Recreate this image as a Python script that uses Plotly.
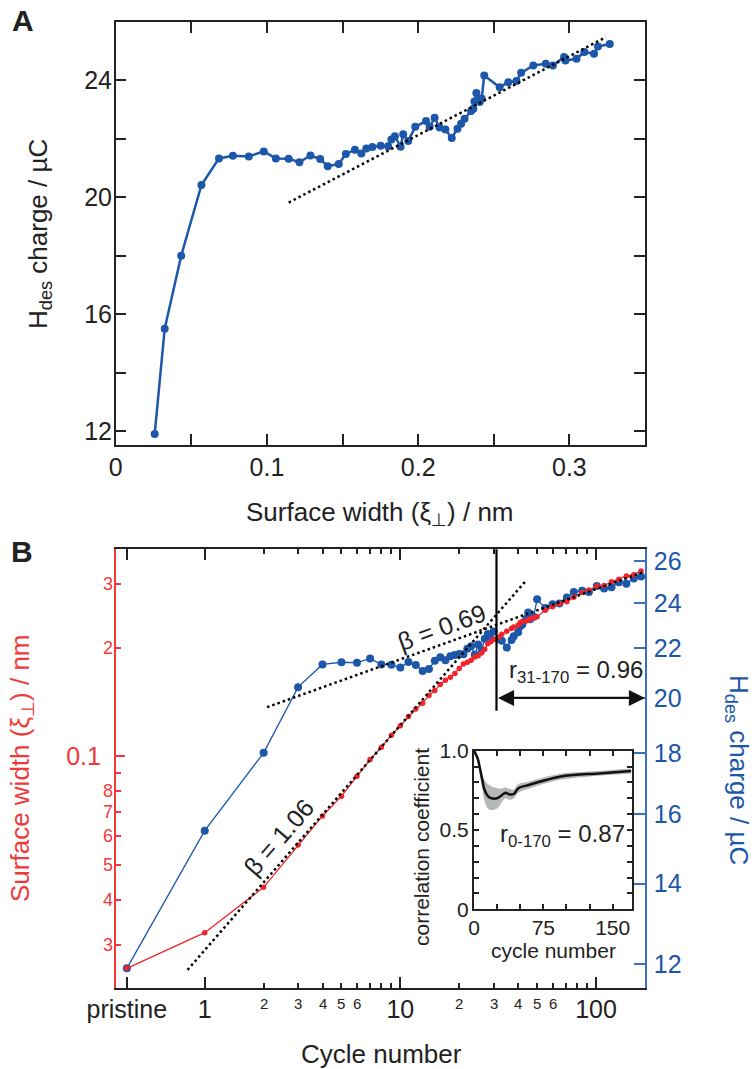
import plotly.graph_objects as go
import numpy as np

W, H = 756, 1069

# ---- data ----
cycle = [0, 1, 2, 3, 4, 5, 6, 7, 8, 9, 10, 11, 12, 13, 14, 15, 16, 17, 18, 19,
         20, 21, 22, 23, 24, 25, 26, 27, 28, 29, 30, 32, 33, 35, 37, 38, 40, 41,
         42, 44, 45, 46, 48, 50, 55, 60, 65, 71, 77, 85, 92, 101, 110, 120, 131,
         143, 156, 170]
width_nm = [0.0258, 0.0324, 0.0433, 0.0567, 0.0683, 0.0775, 0.0880, 0.0979, 0.1059, 0.1144,
            0.1215, 0.1288, 0.1352, 0.1402, 0.1475, 0.1522, 0.1582, 0.1624, 0.1657, 0.1697,
            0.1752, 0.1801, 0.1823, 0.1846, 0.1884, 0.1901, 0.1934, 0.1981, 0.2052, 0.2076,
            0.2109, 0.2142, 0.2180, 0.2222, 0.2260, 0.2284, 0.2307, 0.2350, 0.2365, 0.2372,
            0.2385, 0.2407, 0.2420, 0.2437, 0.2539, 0.2596, 0.2650, 0.2681, 0.2761, 0.2844,
            0.2891, 0.2965, 0.2974, 0.3047, 0.3099, 0.3163, 0.3189, 0.3267]
charge_uc = [11.9, 15.5, 18.0, 20.42, 21.33, 21.42, 21.40, 21.57, 21.33, 21.32,
             21.20, 21.43, 21.31, 21.06, 21.14, 21.48, 21.63, 21.50, 21.67, 21.72,
             21.76, 21.75, 21.98, 22.09, 21.73, 22.16, 21.93, 22.41, 22.61, 22.41,
             22.72, 22.39, 22.32, 22.03, 22.35, 22.52, 22.69, 22.95, 23.03, 23.28,
             23.57, 23.26, 23.38, 24.17, 23.77, 23.94, 23.98, 24.26, 24.51, 24.57,
             24.51, 24.80, 24.68, 24.74, 24.97, 24.91, 25.16, 25.25]

# dotted fits
fit_a_x = [0.1144, 0.3241]
fit_a_y = [19.82, 25.48]
fit_fast_x = [0.817, 43.4]      # beta = 1.06
fit_fast_y = [0.02555, 0.3049]
fit_slow_x = [2.084, 177.2]     # beta = 0.69
fit_slow_y = [0.1368, 0.325]
split_cycle = 31
split_top, split_bottom = 0.40, 0.1338
arrow_charge = 20

# inset: correlation coefficient
corr_cycle = [0, 4, 6, 9, 11, 15, 19, 25, 29, 34, 38, 43, 48, 59, 78, 97, 135, 170]
corr_r = [1.0, 0.95, 0.90, 0.815, 0.76, 0.714, 0.70, 0.70, 0.714, 0.735, 0.725,
          0.727, 0.763, 0.784, 0.815, 0.84, 0.857, 0.872]
corr_lo = [1.0, 0.93, 0.86, 0.76, 0.69, 0.635, 0.625, 0.635, 0.665, 0.70, 0.69,
           0.70, 0.735, 0.76, 0.795, 0.82, 0.842, 0.857]
corr_hi = [1.0, 0.97, 0.93, 0.86, 0.82, 0.79, 0.775, 0.765, 0.76, 0.77, 0.76,
           0.755, 0.79, 0.805, 0.835, 0.858, 0.872, 0.887]

PRISTINE_AT = 0.4
cyc_pos = [PRISTINE_AT if c == 0 else c for c in cycle]

BLUE = '#1c57aa'
BLUE_AX = '#3a6ec2'
RED = '#f0252b'
RED_AX = '#f03a3a'
INK = '#222222'
FONT = 'Liberation Sans, Arial, sans-serif'


def px(x):
    return x / W


def py(y):
    return 1 - y / H


fig = go.Figure()

# ---- panel A ----
fig.add_trace(go.Scatter(x=width_nm, y=charge_uc, mode='lines+markers',
                         line=dict(color=BLUE, width=2.5), marker=dict(size=8, color=BLUE),
                         xaxis='x', yaxis='y'))
fig.add_trace(go.Scatter(x=fit_a_x, y=fit_a_y, mode='lines',
                         line=dict(color='black', width=2.5, dash='2.5px,3px'),
                         xaxis='x', yaxis='y'))

# ---- panel B ----
fig.add_trace(go.Scatter(x=cyc_pos, y=charge_uc, mode='lines+markers',
                         line=dict(color=BLUE, width=1.3), marker=dict(size=8, color=BLUE),
                         xaxis='x2', yaxis='y2'))
fig.add_trace(go.Scatter(x=cyc_pos, y=width_nm, mode='lines+markers',
                         line=dict(color=RED, width=1.3), marker=dict(size=5.5, color=RED),
                         xaxis='x2', yaxis='y3'))
for fx, fy in [(fit_fast_x, fit_fast_y), (fit_slow_x, fit_slow_y)]:
    fig.add_trace(go.Scatter(x=fx, y=fy, mode='lines',
                             line=dict(color='black', width=2.5, dash='2.5px,3px'),
                             xaxis='x2', yaxis='y3'))
fig.add_trace(go.Scatter(x=[split_cycle, split_cycle], y=[split_top, split_bottom], mode='lines',
                         line=dict(color='black', width=2.2), xaxis='x2', yaxis='y3'))

# ---- inset ----
fig.add_trace(go.Scatter(x=corr_cycle, y=corr_lo, mode='lines', line=dict(width=0, color='#b4b8b8'),
                         line_shape='spline', xaxis='x3', yaxis='y4'))
fig.add_trace(go.Scatter(x=corr_cycle, y=corr_hi, mode='lines', line=dict(width=0, color='#b4b8b8'),
                         line_shape='spline', fill='tonexty', fillcolor='#b4b8b8',
                         xaxis='x3', yaxis='y4'))
fig.add_trace(go.Scatter(x=corr_cycle, y=corr_r, mode='lines', line=dict(color='#111111', width=2.5),
                         line_shape='spline', xaxis='x3', yaxis='y4'))

frame = dict(showline=True, linewidth=1.5, linecolor=INK, showgrid=False, zeroline=False,
             ticks='inside', tickwidth=1.5, tickcolor=INK, automargin=False)

xdom = [px(115.7), px(645)]
fig.update_layout(
    width=W, height=H, margin=dict(l=0, r=0, t=0, b=0),
    template='none', showlegend=False,
    paper_bgcolor='white', plot_bgcolor='white',
    font=dict(family=FONT, size=25, color=INK),
    xaxis=dict(frame, domain=xdom, anchor='y', range=[0, 0.35], mirror='ticks', ticklen=11,
               tickvals=[0, 0.05, 0.1, 0.15, 0.2, 0.25, 0.3],
               ticktext=['0', '', '0.1', '', '0.2', '', '0.3'],
               tickfont=dict(size=25), ticklabelstandoff=-1),
    yaxis=dict(frame, domain=[py(445), py(22)], anchor='x', range=[11.52, 26], mirror='ticks',
               ticklen=11, tickvals=[12, 14, 16, 18, 20, 22, 24, 26],
               ticktext=['12', '', '16', '', '20', '', '24', ''],
               tickfont=dict(size=25), ticklabelstandoff=-3),
    xaxis2=dict(frame, domain=xdom, anchor='y2', type='log', range=[-0.455, 2.2505],
                mirror='ticks', ticklen=11, tickvals=[PRISTINE_AT, 1, 10, 100],
                ticktext=['pristine', '1', '10', '100'], tickfont=dict(size=25),
                ticklabelstandoff=-1,
                minor=dict(ticks='inside', ticklen=5, tickwidth=1.5, tickcolor=INK,
                           tickvals=[2, 3, 4, 5, 6, 7, 8, 9, 20, 30, 40, 50, 60, 70, 80, 90])),
    yaxis2=dict(frame, domain=[py(987.7), py(549.3)], anchor='x2', side='right', type='log',
                range=[1.0594, 1.425], linecolor=BLUE_AX, tickcolor=BLUE_AX, ticklen=11,
                tickvals=[12, 14, 16, 18, 20, 22, 24, 26],
                tickfont=dict(size=25, color=BLUE), ticklabelstandoff=2),
    yaxis3=dict(frame, overlaying='y2', anchor='x2', side='left', type='log',
                range=[-1.642, -0.426], linecolor=RED_AX, tickcolor=RED_AX, ticklen=10,
                tickvals=[0.1], ticktext=['0.1'], tickfont=dict(size=25, color=RED_AX),
                ticklabelstandoff=8,
                minor=dict(ticks='inside', ticklen=6, tickwidth=1.5, tickcolor=RED_AX,
                           tickvals=[0.03, 0.04, 0.05, 0.06, 0.07, 0.08, 0.09, 0.2, 0.3])),
    xaxis3=dict(frame, domain=[px(474), px(632.3)], anchor='y4', range=[0, 171.2],
                mirror='ticks', ticklen=5, tickvals=[0, 25, 50, 75, 100, 125, 150],
                ticktext=['0', '', '', '75', '', '', '150'], tickfont=dict(size=21),
                linewidth=2, ticklabelstandoff=-2),
    yaxis4=dict(frame, domain=[py(909.3), py(750.7)], anchor='x3', range=[0, 1],
                mirror='ticks', ticklen=5,
                tickvals=[0, 0.1, 0.2, 0.3, 0.4, 0.5, 0.6, 0.7, 0.8, 0.9, 1.0],
                ticktext=['0', '', '', '', '', '0.5', '', '', '', '', '1.0'],
                tickfont=dict(size=21), linewidth=2, ticklabelstandoff=-1),
)

ann = []


def text(x, y, s, size=25, color=INK, angle=0):
    ann.append(dict(x=px(x), y=py(y), xref='paper', yref='paper', text=s, showarrow=False,
                    textangle=angle, xanchor='center', yanchor='middle',
                    font=dict(family=FONT, size=size, color=color)))


# panel letters and axis titles
text(23, 21, '<b>A</b>', size=30)
text(22, 551, '<b>B</b>', size=30)
text(380, 513, 'Surface width (ξ<sub>⊥</sub>) / nm', size=26)
text(40, 234, 'H<sub>des</sub> charge / µC', size=26, angle=-90)
text(21, 768, 'Surface width (ξ<sub>⊥</sub>) / nm', size=26, color=RED_AX, angle=-90)
text(738, 770, 'H<sub>des</sub> charge / µC', size=26, color=BLUE, angle=90)
text(381, 1054, 'Cycle number', size=26)

# small labels for minor ticks, placed through the axes
for v in [2, 3, 4, 5, 6, 20, 30, 40, 50, 60]:
    s = str(v if v < 10 else v // 10)
    ann.append(dict(x=np.log10(v), y=py(993), xref='x2', yref='paper', text=s, showarrow=False,
                    xanchor='center', yanchor='top', font=dict(family=FONT, size=15, color=INK)))
for v in [0.03, 0.04, 0.05, 0.06, 0.07, 0.08, 0.2, 0.3]:
    s = str(round(v * 100)) if v < 0.1 else str(round(v * 10))
    ann.append(dict(x=px(114.5), y=np.log10(v), xref='paper', yref='y3', text=s, showarrow=False,
                    xanchor='right', yanchor='middle', font=dict(family=FONT, size=18, color=RED_AX)))

# fit labels
text(442, 627, 'β = 0.69', angle=-20)
text(279, 837, 'β = 1.06', angle=-49)
text(576, 671, 'r<sub>31-170</sub> = 0.96', size=24)
text(562, 835, 'r<sub>0-170</sub> = 0.87', size=24)

# inset titles
text(421, 847, 'correlation coefficient', size=21, angle=-90)
text(553, 950, 'cycle number', size=21)

# double arrow r31-170
ann.append(dict(x=2.2505, y=np.log10(arrow_charge), ax=np.log10(split_cycle), ay=np.log10(arrow_charge),
                xref='x2', yref='y2', axref='x2', ayref='y2', text='', showarrow=True,
                arrowhead=2, startarrowhead=2, arrowside='end+start', arrowsize=1.4,
                startarrowsize=1.4, arrowwidth=2.3, arrowcolor='#111111'))

fig.update_layout(annotations=ann)

# the page must not add its own 8px body margin around the figure
fig.write_html("out.html", config={'displayModeBar': False},
               post_script="document.body.style.margin='0';"
                           "document.body.style.overflow='hidden';")
